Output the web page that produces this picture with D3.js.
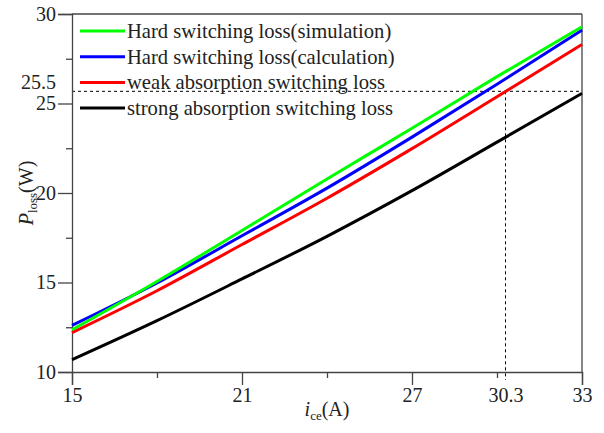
<!DOCTYPE html>
<html>
<head>
<meta charset="utf-8">
<script src="https://cdn.jsdelivr.net/npm/d3@7"></script>
<style>
  html, body { margin: 0; padding: 0; background: #fff; }
</style>
</head>
<body>
<svg id="chart" width="604" height="433"></svg>
<script>
// ---- data ----
const xValues = [15, 18, 21, 24, 27, 30, 33];
const hardSim  = [12.36, 15.06, 17.90, 20.78, 23.62, 26.50, 29.29];
const hardCalc = [12.60, 14.97, 17.61, 20.27, 23.12, 26.07, 29.10];
const weakAbs  = [12.20, 14.54, 17.12, 19.71, 22.48, 25.38, 28.30];
const strongAbs= [10.69, 12.87, 15.20, 17.58, 20.13, 22.84, 25.57];
const seriesNames = [
  "Hard switching loss(simulation)",
  "Hard switching loss(calculation)",
  "weak absorption switching loss",
  "strong absorption switching loss"
];
const seriesColors = ["#00ff00", "#0000ff", "#ff0000", "#000000"];
const xMajorTicks = [15, 21, 27, 33];
const xMinorTicks = [18, 24, 30];
const xExtraTick = 30.3;
const yMajorTicks = [10, 15, 20, 25, 30];
const yMinorTicks = [12.5, 17.5, 22.5, 27.5];
const refY = 25.68;
const refYLabel = "25.5";

// ---- layout ----
const FONT = "'Liberation Serif', 'Times New Roman', Times, Tinos, 'DejaVu Serif', 'Noto Serif', serif";
const svg = d3.select("#chart");
const m = { left: 72, right: 22, top: 14, bottom: 61 };
const W = 604, H = 433;
const x = d3.scaleLinear().domain([15, 33]).range([m.left, W - m.right]);
const y = d3.scaleLinear().domain([10, 30]).range([H - m.bottom, m.top]);
const axisColor = "#444";
const textColor = "#222";

// frame (top & right)
svg.append("line").attr("x1", x(15)).attr("x2", x(33)).attr("y1", y(30)).attr("y2", y(30))
  .attr("stroke", axisColor).attr("stroke-width", 1.3);
svg.append("line").attr("x1", x(33)).attr("x2", x(33)).attr("y1", y(30)).attr("y2", y(10))
  .attr("stroke", axisColor).attr("stroke-width", 1.3);

// reference dashed lines
svg.append("line").attr("x1", x(15)).attr("x2", x(33)).attr("y1", y(refY)).attr("y2", y(refY))
  .attr("stroke", "#000").attr("stroke-width", 1).attr("stroke-dasharray", "3,3");
svg.append("line").attr("x1", x(xExtraTick)).attr("x2", x(xExtraTick)).attr("y1", y(refY)).attr("y2", y(10) + 8)
  .attr("stroke", "#000").attr("stroke-width", 1).attr("stroke-dasharray", "3,3");

// axes
const fontSize = 20;
const xAxis = d3.axisBottom(x).tickValues(xMajorTicks.concat([xExtraTick])).tickSize(13).tickPadding(3)
  .tickFormat(d => d === xExtraTick ? "30.3" : d3.format("d")(d));
const gx = svg.append("g").attr("transform", `translate(0,${y(10)})`).call(xAxis);
gx.selectAll(".tick line").filter(d => d === xExtraTick).remove();
const gxm = svg.append("g").attr("transform", `translate(0,${y(10)})`)
  .call(d3.axisBottom(x).tickValues(xMinorTicks).tickSize(6).tickFormat(""));
gxm.select(".domain").remove();

const yAxis = d3.axisLeft(y).tickValues(yMajorTicks).tickSize(14).tickPadding(2).tickFormat(d3.format("d"));
const gy = svg.append("g").attr("transform", `translate(${x(15)},0)`).call(yAxis);
const gym = svg.append("g").attr("transform", `translate(${x(15)},0)`)
  .call(d3.axisLeft(y).tickValues(yMinorTicks).tickSize(6).tickFormat(""));
gym.select(".domain").remove();

[gx, gy, gxm, gym].forEach(g => {
  g.attr("font-family", FONT).attr("font-size", fontSize);
  g.selectAll(".domain").attr("stroke", axisColor).attr("stroke-width", 1.3);
  g.selectAll(".tick line").attr("stroke", axisColor).attr("stroke-width", 1.3);
  g.selectAll(".tick text").attr("font-size", fontSize).attr("fill", textColor)
    .attr("font-family", FONT);
});

// 25.5 label
svg.append("text").attr("x", x(15) - 16).attr("y", y(refY) - 9)
  .attr("text-anchor", "end").attr("dominant-baseline", "central")
  .attr("font-family", FONT).attr("fill", textColor)
  .attr("font-size", fontSize).text(refYLabel);

// series lines
const seriesData = [hardSim, hardCalc, weakAbs, strongAbs];
const line = d3.line().x((d, i) => x(xValues[i])).y(d => y(d)).curve(d3.curveMonotoneX);
seriesData.slice().reverse().forEach((vals, j) => {
  const i = seriesData.length - 1 - j;
  svg.append("path").datum(vals).attr("d", line)
    .attr("fill", "none").attr("stroke", seriesColors[i]).attr("stroke-width", 3);
});

// legend
const legend = svg.append("g").attr("font-family", FONT).attr("fill", textColor);
seriesNames.forEach((name, i) => {
  const cy = 31 + i * 25.7;
  legend.append("line").attr("x1", 80).attr("x2", 125).attr("y1", cy).attr("y2", cy)
    .attr("stroke", seriesColors[i]).attr("stroke-width", 3);
  legend.append("text").attr("x", 127).attr("y", cy).attr("dominant-baseline", "central")
    .attr("font-family", FONT).attr("font-size", 20.6).text(name);
});

// axis titles
const xt = svg.append("text").attr("x", (x(15) + x(33)) / 2).attr("y", 416)
  .attr("text-anchor", "middle").attr("font-size", fontSize)
  .attr("font-family", FONT).attr("fill", textColor);
xt.append("tspan").attr("font-style", "italic").text("i");
xt.append("tspan").attr("font-size", 13).attr("dy", 4).text("ce");
xt.append("tspan").attr("dy", -4).text("(A)");

const yt = svg.append("text")
  .attr("transform", `translate(33,${(y(10) + y(30)) / 2}) rotate(-90)`)
  .attr("text-anchor", "middle").attr("font-size", fontSize)
  .attr("font-family", FONT).attr("fill", textColor);
yt.append("tspan").attr("font-style", "italic").text("P");
yt.append("tspan").attr("font-size", 13).attr("dy", 4).text("loss");
yt.append("tspan").attr("dy", -4).text("(W)");
</script>
</body>
</html>
